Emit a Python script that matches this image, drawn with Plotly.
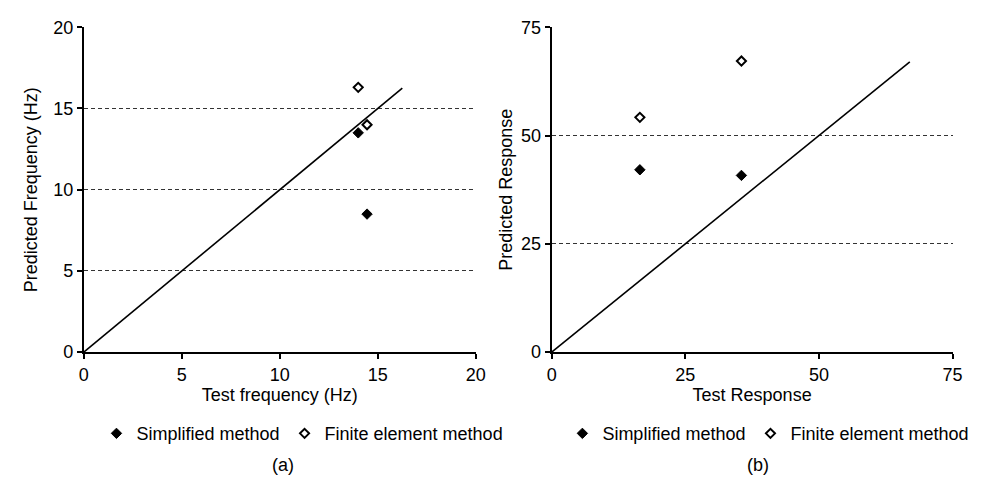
import plotly.graph_objects as go

# Panel (a) data
a_simp_x = [14.0, 14.45]
a_simp_y = [13.5, 8.5]
a_fe_x = [14.0, 14.45]
a_fe_y = [16.3, 14.0]
a_line = [0, 16.25]
a_ticks = [0, 5, 10, 15, 20]

# Panel (b) data
b_simp_x = [16.5, 35.5]
b_simp_y = [42.1, 40.8]
b_fe_x = [16.5, 35.5]
b_fe_y = [54.2, 67.2]
b_line = [0, 67.0]
b_ticks = [0, 25, 50, 75]

FONT = "Liberation Sans, Arial, sans-serif"
W, H = 1000, 482

fig = go.Figure()

def add_panel(xa, ya, leg, sx, sy, fx, fy, ln):
    fig.add_trace(go.Scatter(x=ln, y=ln, mode="lines", line=dict(color="black", width=1.6),
                             showlegend=False, xaxis=xa, yaxis=ya, hoverinfo="skip"))
    fig.add_trace(go.Scatter(x=sx, y=sy, mode="markers", name="Simplified method",
                             marker=dict(symbol="diamond", size=8, color="black",
                                         line=dict(color="black", width=1)),
                             xaxis=xa, yaxis=ya, legend=leg))
    fig.add_trace(go.Scatter(x=fx, y=fy, mode="markers", name="Finite element method",
                             marker=dict(symbol="diamond-open", size=7, color="black",
                                         line=dict(color="black", width=2)),
                             xaxis=xa, yaxis=ya, legend=leg))

add_panel("x", "y", "legend", a_simp_x, a_simp_y, a_fe_x, a_fe_y, a_line)
add_panel("x2", "y2", "legend2", b_simp_x, b_simp_y, b_fe_x, b_fe_y, b_line)

ydom = [(H - 357) / H, (H - 18) / H]

def xaxis(dom, rng, ticks, title, anchor):
    return dict(domain=dom, range=rng, tickvals=ticks, ticktext=[str(t) for t in ticks],
                showline=True, linecolor="black", linewidth=2, ticks="outside", ticklen=5,
                tickwidth=1.5, tickcolor="black", showgrid=False, zeroline=False,
                tickfont=dict(family=FONT, size=18, color="black"), anchor=anchor,
                title=dict(text=title, font=dict(family=FONT, size=18, color="black"), standoff=3))

def yaxis(rng, ticks, title, anchor, standoff):
    return dict(domain=ydom, range=rng, tickvals=ticks, ticktext=[str(t) for t in ticks],
                showline=True, linecolor="black", linewidth=2, ticks="outside", ticklen=5,
                tickwidth=1.5, tickcolor="black", showgrid=True, gridcolor="#333",
                gridwidth=1, griddash="4px,3px", zeroline=False, anchor=anchor,
                tickfont=dict(family=FONT, size=18, color="black"),
                title=dict(text=title, font=dict(family=FONT, size=18, color="black"),
                           standoff=standoff))

fig.update_layout(
    width=W, height=H, margin=dict(l=0, r=0, t=0, b=0),
    paper_bgcolor="white", plot_bgcolor="white",
    xaxis=xaxis([80 / W, 478 / W], [0, 20], a_ticks, "Test frequency (Hz)", "y"),
    yaxis=yaxis([0, 20], a_ticks, "Predicted Frequency (Hz)", "x", 11),
    xaxis2=xaxis([555 / W, 962 / W], [0, 75], b_ticks, "Test Response", "y2"),
    yaxis2=yaxis([0, 75], b_ticks, "Predicted Response", "x2", 4),
    legend=dict(orientation="h", x=302 / W, y=(H - 442) / H, xanchor="center", yanchor="middle",
                font=dict(family=FONT, size=18, color="black"), itemwidth=30,
                bgcolor="rgba(0,0,0,0)", tracegroupgap=0),
    legend2=dict(orientation="h", x=775 / W, y=(H - 442) / H, xanchor="center", yanchor="middle",
                 font=dict(family=FONT, size=18, color="black"), itemwidth=30,
                 bgcolor="rgba(0,0,0,0)", tracegroupgap=0),
    annotations=[
        dict(text="(a)", x=282 / W, y=(H - 475) / H, xref="paper", yref="paper",
             xanchor="center", yanchor="middle",
             showarrow=False, font=dict(family=FONT, size=18, color="black")),
        dict(text="(b)", x=764 / W, y=(H - 475) / H, xref="paper", yref="paper",
             xanchor="center", yanchor="middle",
             showarrow=False, font=dict(family=FONT, size=18, color="black")),
    ],
    showlegend=True,
)

fig.write_html("out.html", config={"displayModeBar": False},
               post_script="document.body.style.margin='0';")
